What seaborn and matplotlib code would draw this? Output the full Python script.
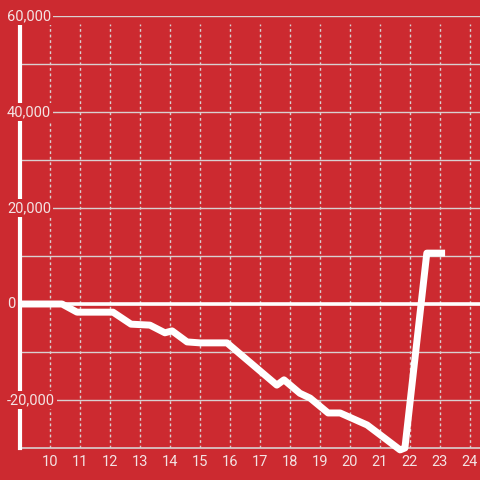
import matplotlib
matplotlib.use("Agg")
import matplotlib.pyplot as plt
import seaborn as sns
import pandas as pd

hours = [9.0, 10.4, 10.9, 12.1, 12.7, 13.33, 13.83, 14.07, 14.57, 15.0, 15.9,
         17.56, 17.8, 18.33, 18.67, 19.27, 19.67, 20.57, 21.1, 21.67, 21.83,
         22.56, 23.17]
values = [0, 0, -1700, -1700, -4200, -4400, -6000, -5600, -7900, -8100, -8100,
          -16900, -15800, -18600, -19600, -22700, -22700, -25200, -27700, -30400,
          -30000, 10600, 10600]
x_ticks = list(range(10, 25))
y_ticks = [-20000, 0, 20000, 40000, 60000]
y_grid = [-20000, -10000, 0, 10000, 20000, 30000, 40000, 50000, 60000]

BG = "#cc2a30"
TXT = "#f3e3e3"
GRID = "#d9d0d0"

sns.set_style("white")
plt.rcParams["font.family"] = ["Roboto", "DejaVu Sans"]

df = pd.DataFrame({"hour": hours, "value": values})

fig = plt.figure(figsize=(4.8, 4.8), dpi=100, facecolor=BG)
ax = fig.add_axes([20/480, 32/480, 460/480, 432/480])
ax.set_facecolor(BG)
ax.set_xlim(9.0, 9.0 + 460/30)
ax.set_ylim(-30000, 60000)

top_frac = (448 - 24) / 432
for xv in x_ticks:
    ax.axvline(xv, ymin=0, ymax=top_frac, color=GRID, lw=1, ls=(0, (2, 2)), zorder=1)
for yv in y_grid:
    ax.axhline(yv, color=GRID, lw=1, zorder=1)
ax.axhline(0, color="white", lw=2.6, zorder=2)

sns.lineplot(data=df, x="hour", y="value", ax=ax, color="white", lw=5,
             solid_joinstyle="round", solid_capstyle="butt", zorder=3)
for ln in ax.get_lines()[-1:]:
    ln.set_clip_on(False)

for s in ["top", "right"]:
    ax.spines[s].set_visible(False)
ax.spines["bottom"].set_color(GRID)
ax.spines["bottom"].set_linewidth(1.2)
ax.spines["left"].set_color("white")
ax.spines["left"].set_linewidth(3)
ax.spines["left"].set_bounds(-30000, 60000 - 8 * 20000 / 96)
ax.spines["left"].set_zorder(4)

ax.set_xticks(x_ticks)
ax.set_xticklabels([str(v) for v in x_ticks], color=TXT, fontsize=10.5)
ax.tick_params(axis="x", length=0, pad=5)
ax.set_yticks([])
ax.set_xlabel("")
ax.set_ylabel("")

for yv in y_ticks:
    ax.text(-13/460, (yv + 30000) / 90000, f"{yv:,}", transform=ax.transAxes,
            ha="left", va="center", color=TXT, fontsize=10.5, zorder=6,
            bbox=dict(facecolor=BG, edgecolor="none", pad=1.5))

fig.savefig("out.png", dpi=100, facecolor=BG)
